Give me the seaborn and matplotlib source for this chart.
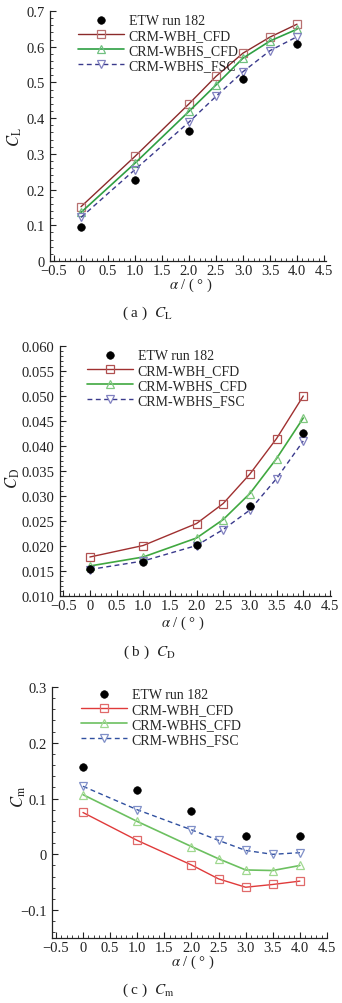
import numpy as np
import pandas as pd
import matplotlib
matplotlib.use("Agg")
import matplotlib.pyplot as plt
import seaborn as sns
from matplotlib.ticker import MultipleLocator, FuncFormatter

# ---------------- data ----------------
alpha_etw = [0, 1, 2, 3, 4]
alpha_cfd = [0, 1, 2, 2.5, 3, 3.5, 4]

series_names = ["ETW run 182", "CRM-WBH_CFD", "CRM-WBHS_CFD", "CRM-WBHS_FSC"]

cl_etw = [0.096, 0.227, 0.365, 0.510, 0.607]
cl_wbh = [0.152, 0.293, 0.440, 0.517, 0.582, 0.627, 0.663]
cl_wbhs = [0.136, 0.274, 0.419, 0.493, 0.568, 0.616, 0.649]
cl_fsc = [0.122, 0.256, 0.389, 0.461, 0.530, 0.589, 0.628]

cd_etw = [0.0155, 0.0168, 0.0203, 0.0281, 0.0427]
cd_wbh = [0.0178, 0.0201, 0.0245, 0.0285, 0.0344, 0.0415, 0.0500]
cd_wbhs = [0.0160, 0.0178, 0.0216, 0.0253, 0.0305, 0.0375, 0.0456]
cd_fsc = [0.0153, 0.0170, 0.0201, 0.0233, 0.0272, 0.0335, 0.0410]

cm_etw = [0.157, 0.116, 0.077, 0.032, 0.032]
cm_wbh = [0.075, 0.025, -0.019, -0.044, -0.059, -0.054, -0.048]
cm_wbhs = [0.107, 0.059, 0.014, -0.008, -0.028, -0.029, -0.020]
cm_fsc = [0.122, 0.080, 0.044, 0.025, 0.007, 0.000, 0.003]

x_ticks = [-0.5, 0, 0.5, 1.0, 1.5, 2.0, 2.5, 3.0, 3.5, 4.0, 4.5]

# ---------------- style ----------------
sns.set_theme(style="white")
plt.rcParams["font.family"] = ["Liberation Serif", "DejaVu Serif"]
plt.rcParams["mathtext.fontset"] = "stix"
plt.rcParams["axes.unicode_minus"] = True

W, H = 342, 1004
fig = plt.figure(figsize=(W / 100, H / 100), dpi=100)


def fx(px):
    return px / W


def fy(py):
    return 1 - py / H


def make_ax(l, r, t, b):
    return fig.add_axes([fx(l), fy(b), fx(r) - fx(l), fy(t) - fy(b)])


def fmt0(dec):
    def f(v, pos):
        if abs(v) < 1e-9 and dec == 1:
            return "0"
        s = f"{v:.{dec}f}"
        return s.replace("-", "\u2212")
    return FuncFormatter(f)


def style_ax(ax, xlim, ylim, ymajor, yminor, ydec):
    ax.set_xlim(*xlim)
    ax.set_ylim(*ylim)
    ax.set_xticks(x_ticks)
    ax.xaxis.set_minor_locator(MultipleLocator(0.1))
    ax.yaxis.set_major_locator(MultipleLocator(ymajor))
    ax.yaxis.set_minor_locator(MultipleLocator(yminor))
    ax.xaxis.set_major_formatter(fmt0(1))
    ax.yaxis.set_major_formatter(fmt0(ydec))
    for s in ["top", "right"]:
        ax.spines[s].set_visible(False)
    for s in ["left", "bottom"]:
        ax.spines[s].set_color("#222222")
        ax.spines[s].set_linewidth(0.9)
    ax.tick_params(which="both", bottom=True, left=True, top=False, right=False)
    ax.tick_params(which="major", direction="in", length=4.0, width=0.8,
                   labelsize=10.5, colors="#222222", pad=2)
    ax.tick_params(which="minor", direction="in", length=2.2, width=0.6,
                   colors="#222222")
    ax.tick_params(axis="y", which="major", pad=4)
    ax.set_xlabel("")
    ax.set_ylabel("")
    ax.grid(False)


def draw(ax, etw, wbh, wbhs, fsc, cols):
    df_etw = pd.DataFrame({"alpha": alpha_etw, "val": etw})
    df_wbh = pd.DataFrame({"alpha": alpha_cfd, "val": wbh})
    df_wbhs = pd.DataFrame({"alpha": alpha_cfd, "val": wbhs})
    df_fsc = pd.DataFrame({"alpha": alpha_cfd, "val": fsc})
    sns.scatterplot(data=df_etw, x="alpha", y="val", ax=ax, color="black",
                    edgecolor="black", s=30, marker="o", label=series_names[0],
                    zorder=5)
    sns.lineplot(data=df_wbh, x="alpha", y="val", ax=ax, sort=False,
                 estimator=None, color=cols[0], lw=1.0, marker="s",
                 markersize=6, markerfacecolor="none",
                 markeredgecolor=cols[1], markeredgewidth=0.9,
                 label=series_names[1])
    sns.lineplot(data=df_wbhs, x="alpha", y="val", ax=ax, sort=False,
                 estimator=None, color=cols[2], lw=1.2, marker="^",
                 markersize=6, markerfacecolor="none",
                 markeredgecolor=cols[3], markeredgewidth=0.9,
                 label=series_names[2])
    sns.lineplot(data=df_fsc, x="alpha", y="val", ax=ax, sort=False,
                 estimator=None, color=cols[4], lw=1.0, marker="v",
                 markersize=6, markerfacecolor="none",
                 markeredgecolor=cols[5], markeredgewidth=0.9,
                 linestyle=(0, (3.5, 2.5)), label=series_names[3])
    h, l = ax.get_legend_handles_labels()
    d = dict(zip(l, h))
    return [d[n] for n in series_names]


def legend(ax, handles, x_ax, y_ax):
    ax.legend(handles, series_names, loc="upper left",
              bbox_to_anchor=(x_ax, y_ax), frameon=False, fontsize=10,
              handlelength=3.3, handletextpad=0.35, labelspacing=0.15,
              borderpad=0, borderaxespad=0)


# ---------- panel a ----------
axA = make_ax(50, 326, 12, 262)
hA = draw(axA, cl_etw, cl_wbh, cl_wbhs, cl_fsc,
          ["#8b2a2a", "#b87070", "#2ea043", "#70c080", "#3a3a8c", "#8080c0"])
style_ax(axA, (-0.574, 4.537), (0, 0.7), 0.1, 0.02, 1)
legend(axA, hA, (78 - 50) / 276, (262 - 15) / 250)

# ---------- panel b ----------
axB = make_ax(60, 331, 347, 597)
hB = draw(axB, cd_etw, cd_wbh, cd_wbhs, cd_fsc,
          ["#a03030", "#b05050", "#40a840", "#80c880", "#3a3a8c", "#8080c0"])
style_ax(axB, (-0.56, 4.52), (0.010, 0.060), 0.005, 0.001, 3)
legend(axB, hB, (87 - 60) / 271, (597 - 350) / 250)

# ---------- panel c ----------
axC = make_ax(52, 327, 688, 939)
hC = draw(axC, cm_etw, cm_wbh, cm_wbhs, cm_fsc,
          ["#e03a3a", "#e06a6a", "#6cc060", "#a0d890", "#3050a0", "#8090c8"])
style_ax(axC, (-0.571, 4.5), (-0.15, 0.3), 0.1, 0.02, 1)
legend(axC, hC, (81 - 52) / 275, (939 - 689) / 251)

# ---------- axis titles and captions ----------
txt = dict(color="#222222", ha="center", va="center")
fig.text(fx(191), fy(285), r"$\alpha$ / ( ° )", fontsize=10.5, **txt)
fig.text(fx(183), fy(623), r"$\alpha$ / ( ° )", fontsize=10.5, **txt)
fig.text(fx(193), fy(962), r"$\alpha$ / ( ° )", fontsize=10.5, **txt)

fig.text(fx(15), fy(137), r"$C_{\mathrm{L}}$", fontsize=12, rotation=90, **txt)
fig.text(fx(13), fy(478), r"$C_{\mathrm{D}}$", fontsize=12, rotation=90, **txt)
fig.text(fx(19), fy(797), r"$C_{\mathrm{m}}$", fontsize=12, rotation=90, **txt)

fig.text(fx(147), fy(313), r"( a )  $C_{\mathrm{L}}$", fontsize=11, **txt)
fig.text(fx(149), fy(652), r"( b )  $C_{\mathrm{D}}$", fontsize=11, **txt)
fig.text(fx(148), fy(990), r"( c )  $C_{\mathrm{m}}$", fontsize=11, **txt)

fig.savefig("out.png", dpi=100)
